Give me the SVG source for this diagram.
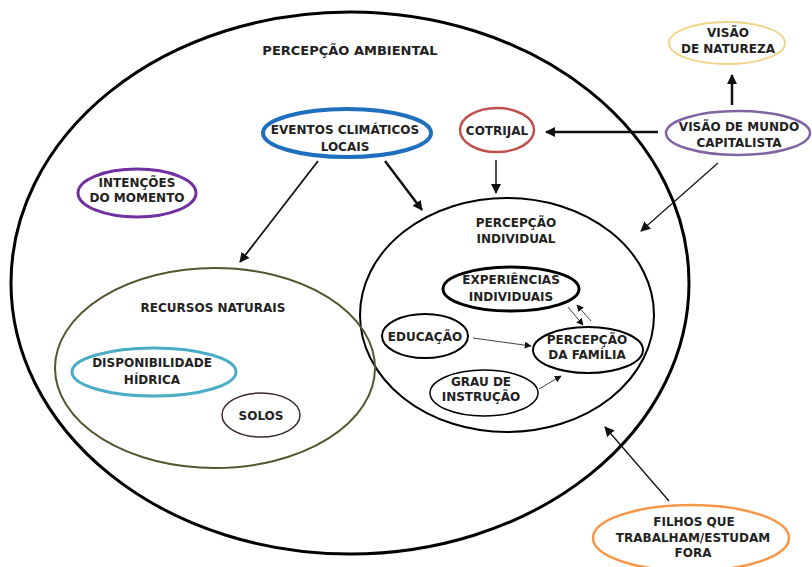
<svg xmlns="http://www.w3.org/2000/svg" width="812" height="567" viewBox="0 0 812 567">
<defs>
<marker id="ah" viewBox="0 0 10 10" refX="9" refY="5" markerWidth="10" markerHeight="10" markerUnits="userSpaceOnUse" orient="auto">
<path d="M0,0 L10,5 L0,10 z" fill="#111"/>
</marker>
<marker id="ahs" viewBox="0 0 10 10" refX="9" refY="5" markerWidth="7" markerHeight="7" markerUnits="userSpaceOnUse" orient="auto">
<path d="M0,0 L10,5 L0,10 z" fill="#111"/>
</marker>
</defs>
<style>
text{font-family:"DejaVu Sans","Liberation Sans",sans-serif;font-weight:bold;font-size:12px;fill:#222;text-anchor:middle}
.e{fill:none}
.c{fill:none;stroke:#111}
</style>
<rect width="812" height="567" fill="#fff"/>
<g id="percepcao-ambiental">
<ellipse class="e" cx="350" cy="283" rx="339" ry="271" stroke="#000" stroke-width="3"/>
<text x="350" y="55" style="font-size:13px">PERCEPÇÃO AMBIENTAL</text>
</g>
<g id="percepcao-individual">
<ellipse class="e" cx="507" cy="315" rx="147" ry="117" stroke="#000" stroke-width="2"/>
<text x="516" y="227">PERCEPÇÃO</text>
<text x="516" y="243">INDIVIDUAL</text>
</g>
<g id="recursos-naturais">
<ellipse class="e" cx="215" cy="368" rx="160" ry="100" stroke="#55552f" stroke-width="2"/>
<text x="213" y="312">RECURSOS NATURAIS</text>
</g>
<g id="eventos-climaticos">
<ellipse class="e" cx="347" cy="133" rx="84" ry="24" stroke="#1f6fbf" stroke-width="4"/>
<text x="345" y="134">EVENTOS CLIMÁTICOS</text>
<text x="345" y="151">LOCAIS</text>
</g>
<g id="cotrijal">
<ellipse class="e" cx="497" cy="130" rx="37" ry="22" stroke="#c0504d" stroke-width="2.5"/>
<text x="497" y="135">COTRIJAL</text>
</g>
<g id="visao-mundo">
<ellipse class="e" cx="738" cy="133" rx="72" ry="22" stroke="#8064a2" stroke-width="2.5"/>
<text x="739" y="131">VISÃO DE MUNDO</text>
<text x="739" y="147">CAPITALISTA</text>
</g>
<g id="visao-natureza">
<ellipse class="e" cx="727" cy="43" rx="58" ry="21" stroke="#f0d48a" stroke-width="2"/>
<text x="728" y="37">VISÃO</text>
<text x="728" y="53">DE NATUREZA</text>
</g>
<g id="intencoes">
<ellipse class="e" cx="137" cy="193" rx="59" ry="24" stroke="#7030a0" stroke-width="3"/>
<text x="137" y="187">INTENÇÕES</text>
<text x="137" y="202">DO MOMENTO</text>
</g>
<g id="disponibilidade-hidrica">
<ellipse class="e" cx="154" cy="372" rx="82" ry="24" stroke="#4bacc6" stroke-width="3"/>
<text x="152" y="367">DISPONIBILIDADE</text>
<text x="152" y="384">HÍDRICA</text>
</g>
<g id="solos">
<ellipse class="e" cx="261" cy="415" rx="39" ry="22" stroke="#3a2a2a" stroke-width="1.5"/>
<text x="261" y="420">SOLOS</text>
</g>
<g id="experiencias">
<ellipse class="e" cx="511" cy="289" rx="68" ry="22" stroke="#000" stroke-width="3"/>
<text x="511" y="284">EXPERIÊNCIAS</text>
<text x="511" y="301">INDIVIDUAIS</text>
</g>
<g id="educacao">
<ellipse class="e" cx="425" cy="336" rx="43" ry="22" stroke="#000" stroke-width="2"/>
<text x="425" y="341">EDUCAÇÃO</text>
</g>
<g id="percepcao-familia">
<ellipse class="e" cx="588" cy="350" rx="55" ry="23" stroke="#000" stroke-width="2"/>
<text x="587" y="344">PERCEPÇÃO</text>
<text x="587" y="359">DA FAMÍLIA</text>
</g>
<g id="grau-instrucao">
<ellipse class="e" cx="484" cy="393" rx="54" ry="23" stroke="#000" stroke-width="1.5"/>
<text x="481" y="386">GRAU DE</text>
<text x="481" y="401">INSTRUÇÃO</text>
</g>
<g id="filhos">
<ellipse class="e" cx="691" cy="538" rx="98" ry="33" stroke="#f79646" stroke-width="2.5"/>
<text x="694" y="526">FILHOS QUE</text>
<text x="693" y="542">TRABALHAM/ESTUDAM</text>
<text x="693" y="557">FORA</text>
</g>
<g id="connectors">
<line class="c" x1="732" y1="105" x2="732" y2="75" stroke-width="2.5" marker-end="url(#ah)"/>
<line class="c" x1="658" y1="132" x2="546" y2="132" stroke-width="2.5" marker-end="url(#ah)"/>
<line class="c" x1="496" y1="160" x2="496" y2="193" stroke-width="1.5" marker-end="url(#ah)"/>
<line class="c" x1="718" y1="163" x2="641" y2="231" stroke-width="1.2" marker-end="url(#ah)"/>
<line class="c" x1="318" y1="161" x2="240" y2="262" stroke-width="1.8" marker-end="url(#ah)"/>
<line class="c" x1="385" y1="161" x2="422" y2="210" stroke-width="2.5" marker-end="url(#ah)"/>
<line class="c" x1="669" y1="501" x2="605" y2="427" stroke-width="1.3" marker-end="url(#ah)"/>
<line class="c" x1="473" y1="338" x2="531" y2="346" stroke-width="0.8" marker-end="url(#ahs)"/>
<line class="c" x1="539" y1="389" x2="561" y2="376" stroke-width="0.8" marker-end="url(#ahs)"/>
<line class="c" x1="568" y1="307" x2="583" y2="325" stroke-width="0.8" marker-end="url(#ahs)"/>
<line class="c" x1="591" y1="321" x2="577" y2="305" stroke-width="0.8" marker-end="url(#ahs)"/>
</g>
</svg>
